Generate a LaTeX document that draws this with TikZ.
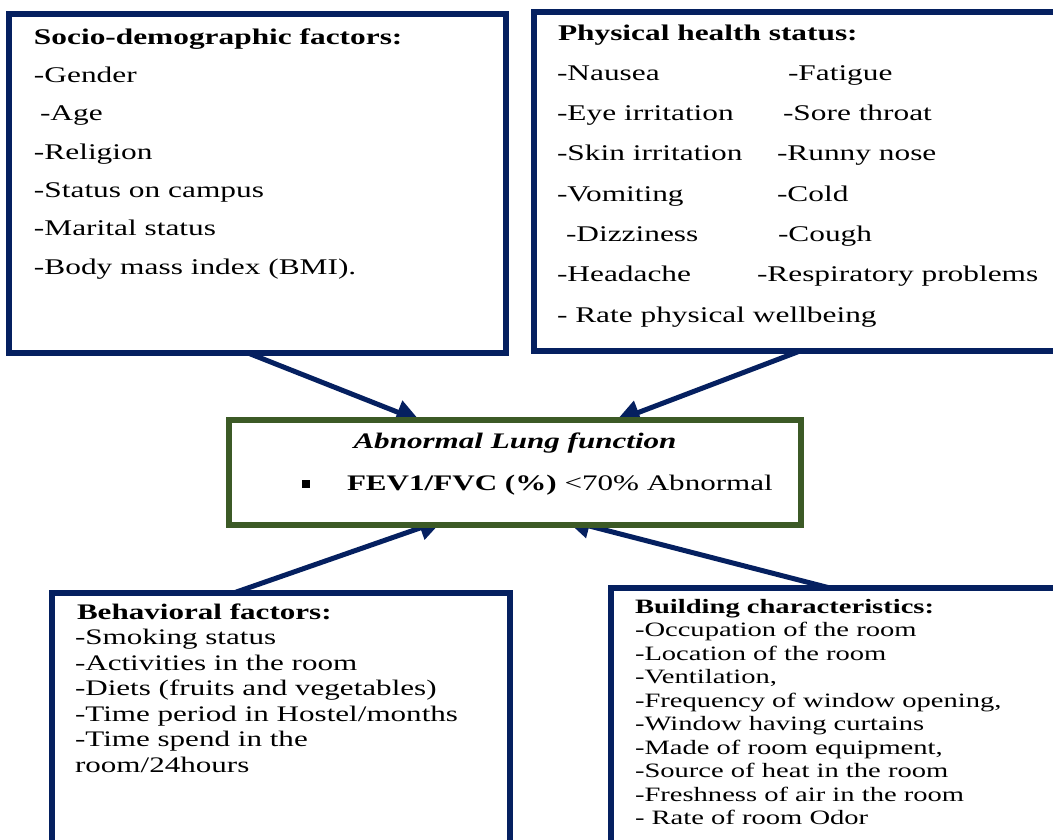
\documentclass[tikz,border=0pt]{standalone}
\usepackage{fontspec}
\setmainfont{Liberation Serif}[FakeStretch=1.4]
\usetikzlibrary{arrows.meta}
\definecolor{navy}{RGB}{5,32,96}
\definecolor{olive}{RGB}{60,90,38}
\tikzset{
  box/.style={draw=navy, line width=6pt, rectangle, inner sep=0pt, outer sep=0pt, fill=white},
  cbox/.style={draw=olive, line width=6pt, rectangle, inner sep=0pt, outer sep=0pt, fill=white},
  txt/.style={anchor=base west, inner sep=0pt, outer sep=0pt, text=black},
  big/.style={font=\fontsize{22.4}{27}\selectfont},
  mid/.style={font=\fontsize{22.2}{27}\selectfont},
  sml/.style={font=\fontsize{20.4}{25}\selectfont},
  conn/.style={draw=navy, line width=5pt, -{Triangle[length=24pt,width=24pt]}}
}
\begin{document}
\begin{tikzpicture}[x=1pt,y=-1pt]
\clip (0,0) rectangle (1053,840);
\fill[white] (0,0) rectangle (1053,840);
% outer boxes
\node[box, minimum width=497pt, minimum height=339pt] (b1) at (257.5,183.5) {};
\node[box, minimum width=536pt, minimum height=339pt] (b2) at (802,181.5) {};
\node[box, minimum width=458.5pt, minimum height=277.5pt] (b3) at (280.75,731.25) {};
\node[box, minimum width=459pt, minimum height=282.5pt] (b4) at (840.5,728.75) {};
% centre box position (drawn after the connectors)
\coordinate (cnw) at (229,419.5);
\coordinate (csw) at (229,525);
% connectors (tips run under the centre box)
\draw[conn] ([xshift=239pt]b1.south west) -- ([xshift=191pt,yshift=-1.5pt]cnw);
\draw[conn] ([xshift=266pt]b2.south west) -- ([xshift=387pt,yshift=-1.5pt]cnw);
\draw[conn] ([xshift=183.5pt]b3.north west) -- ([xshift=214pt,yshift=5pt]csw);
\draw[conn] ([xshift=217pt]b4.north west) -- ([xshift=337pt,yshift=5pt]csw);
\node[cbox, minimum width=572pt, minimum height=105.5pt] (c) at (515,472.25) {};
% socio-demographic
\node[txt,big] (t1) at (34,45) {\textbf{Socio-demographic factors:}};
\node[txt,big] (t1a) at (34,83) {-Gender};
\node[txt,big] (t1b) at (40,121) {-Age};
\node[txt,big] (t1c) at (34,160) {-Religion};
\node[txt,big] (t1d) at (34,198) {-Status on campus};
\node[txt,big] (t1e) at (34,236) {-Marital status};
\node[txt,big] (t1f) at (34,274) {-Body mass index (BMI).};
% physical health
\node[txt,big] (t2) at (558,41) {\textbf{Physical health status:}};
\node[txt,big] (t2a) at (557,81) {-Nausea};
\node[txt,big] (t2b) at (557,121) {-Eye irritation};
\node[txt,big] (t2c) at (557,161) {-Skin irritation};
\node[txt,big] (t2d) at (557,201) {-Vomiting};
\node[txt,big] (t2e) at (566,241) {-Dizziness};
\node[txt,big] (t2f) at (557,281) {-Headache};
\node[txt,big] (t2g) at (557,322) {- Rate physical wellbeing};
\node[txt,big] (t2h) at (788,81) {-Fatigue};
\node[txt,big] (t2i) at (783,121) {-Sore throat};
\node[txt,big] (t2j) at (777,161) {-Runny nose};
\node[txt,big] (t2k) at (777,201) {-Cold};
\node[txt,big] (t2l) at (778,241) {-Cough};
\node[txt,big] (t2m) at (757,281) {-Respiratory problems};
% centre
\node[anchor=base, inner sep=0pt, mid] (ct) at (515,448) {\textbf{\textit{Abnormal Lung function}}};
\fill[black] (302,480) rectangle (310,488);
\node[txt,mid] (cf) at (347,490) {\textbf{FEV1/FVC (\%)} <70\% Abnormal};
% behavioral
\node[txt,mid] (t3) at (77,619) {\textbf{Behavioral factors:}};
\node[txt,mid] (t3a) at (75,644.5) {-Smoking status};
\node[txt,mid] (t3b) at (75,670) {-Activities in the room};
\node[txt,mid] (t3c) at (75,695.5) {-Diets (fruits and vegetables)};
\node[txt,mid] (t3d) at (75,721) {-Time period in Hostel/months};
\node[txt,mid] (t3e) at (75,746.5) {-Time spend in the};
\node[txt,mid] (t3f) at (75,772) {room/24hours};
% building
\node[txt,sml] (t4) at (635,613) {\textbf{Building characteristics:}};
\node[txt,sml] (t4a) at (635,636.5) {-Occupation of the room};
\node[txt,sml] (t4b) at (635,660) {-Location of the room};
\node[txt,sml] (t4c) at (635,683.5) {-Ventilation,};
\node[txt,sml] (t4d) at (635,707) {-Frequency of window opening,};
\node[txt,sml] (t4e) at (635,730.5) {-Window having curtains};
\node[txt,sml] (t4f) at (635,754) {-Made of room equipment,};
\node[txt,sml] (t4g) at (635,777.5) {-Source of heat in the room};
\node[txt,sml] (t4h) at (635,801) {-Freshness of air in the room};
\node[txt,sml] (t4i) at (635,824.5) {- Rate of room Odor};
\end{tikzpicture}
\end{document}
